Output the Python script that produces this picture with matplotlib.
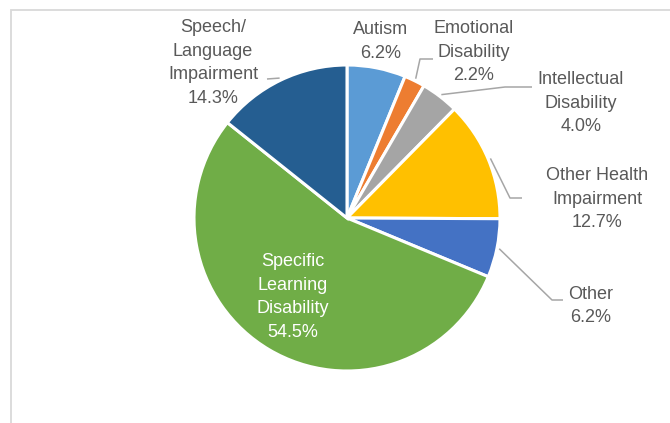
import matplotlib
matplotlib.use("Agg")
import matplotlib.pyplot as plt
from matplotlib.patches import Rectangle
import numpy as np

categories = ["Autism", "Emotional\nDisability", "Intellectual\nDisability",
              "Other Health\nImpairment", "Other", "Specific\nLearning\nDisability",
              "Speech/\nLanguage\nImpairment"]
values = [6.2, 2.2, 4.0, 12.7, 6.2, 54.5, 14.3]
colors = ["#5B9BD5", "#ED7D31", "#A5A5A5", "#FFC000", "#4472C4", "#70AD47", "#255E91"]

plt.rcParams['font.family'] = ['Liberation Sans', 'DejaVu Sans']

W, H = 670, 423
fig = plt.figure(figsize=(6.7, 4.23), dpi=100)
ax = fig.add_axes([0, 0, 1, 1])

def Y(yp):
    return H - yp

cx, cy, R = 347, Y(218), 153
wedges, _ = ax.pie(values, colors=colors, startangle=90, counterclock=False,
                   center=(cx, cy), radius=R, frame=True,
                   wedgeprops=dict(edgecolor="white", linewidth=2.2))
ax.set_xlim(0, W)
ax.set_ylim(0, H)
ax.axis("off")

# chart frame (partially visible)
fig.patches.append(Rectangle((11 / W, -0.1), 1.2, (H - 10) / H + 0.1,
                             transform=fig.transFigure, fill=False,
                             edgecolor="#D9D9D9", linewidth=1.3))

txt_color = "#595959"
line_color = "#A6A6A6"
fs = 13
ls = 1.5

def mid_point(i, r=1.015):
    w = wedges[i]
    a = np.deg2rad((w.theta1 + w.theta2) / 2)
    return cx + R * r * np.cos(a), cy + R * r * np.sin(a)

labels = [f"{c}\n{v:.1f}%" for c, v in zip(categories, values)]
# label centres (pixel coords) and leader elbows
label_pos = [(381, 41.5), (474, 52), (581, 103), (597, 199), (591, 306), (293, 297), (213, 63)]
leaders = {
    1: [(420, 59), (433, 59)],
    2: [(505, 87), (532, 87)],
    3: [(510, 198), (522, 198)],
    4: [(552, 300), (563, 300)],
    6: [(267, 79)],
}

for i, (lab, (x, y)) in enumerate(zip(labels, label_pos)):
    col = "white" if i == 5 else txt_color
    ax.text(x, Y(y), lab, ha="center", va="center", fontsize=fs,
            color=col, linespacing=ls)

for i, pts in leaders.items():
    sx, sy = mid_point(i)
    xs = [sx] + [p[0] for p in pts]
    ys = [sy] + [Y(p[1]) for p in pts]
    ax.plot(xs, ys, color=line_color, linewidth=1.1, solid_capstyle="butt")

fig.savefig("out.png", dpi=100, facecolor="white")
